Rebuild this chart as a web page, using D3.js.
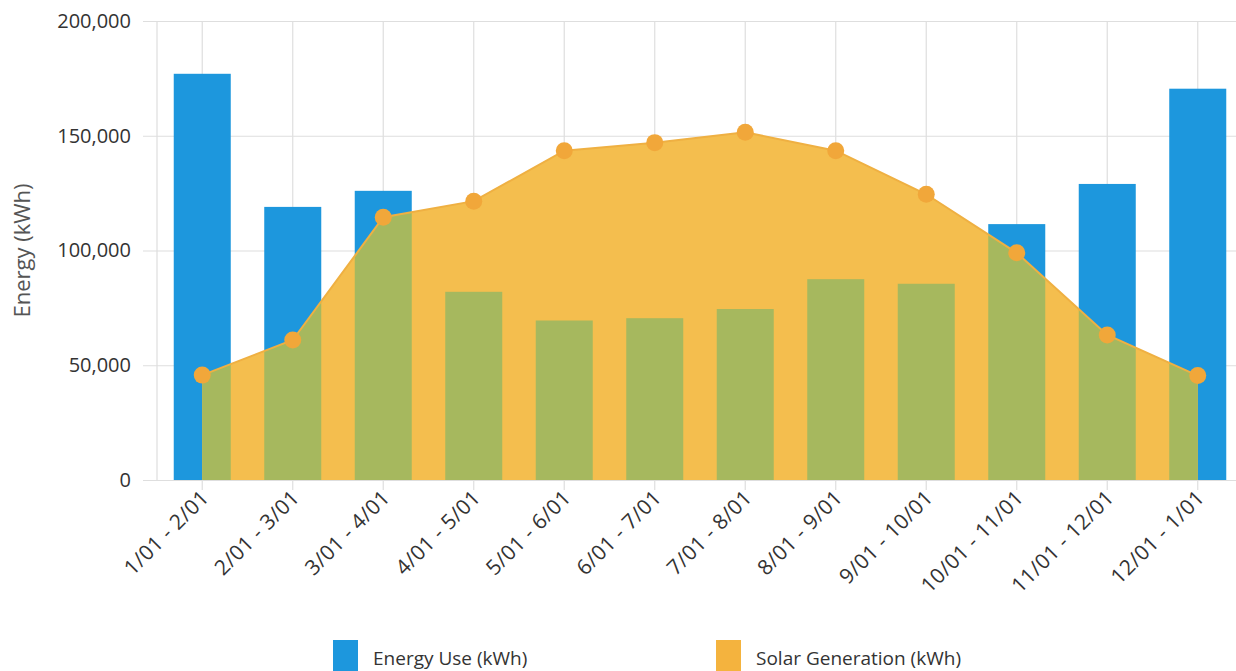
<!DOCTYPE html>
<html>
<head>
<meta charset="utf-8">
<script src="https://cdn.jsdelivr.net/npm/d3@7/dist/d3.min.js"></script>
<style>
  html, body { margin: 0; padding: 0; background: #fff; }
  svg { display: block; font-family: "Open Sans", sans-serif; }
</style>
</head>
<body>
<svg id="chart" width="1236" height="671"></svg>
<script>
// Monthly billing periods
const periods = ["1/01 - 2/01", "2/01 - 3/01", "3/01 - 4/01", "4/01 - 5/01", "5/01 - 6/01", "6/01 - 7/01",
                 "7/01 - 8/01", "8/01 - 9/01", "9/01 - 10/01", "10/01 - 11/01", "11/01 - 12/01", "12/01 - 1/01"];
// Energy use per period (kWh)
const energyUse = [177000, 119000, 126000, 82000, 69500, 70500, 74500, 87500, 85500, 111500, 129000, 170500];
// Solar generation per period (kWh)
const solarGen = [45700, 61000, 114500, 121500, 143500, 147000, 151500, 143500, 124500, 99000, 63200, 45500];
// Y axis ticks
const yTicks = [0, 50000, 100000, 150000, 200000];
const legendItems = ["Energy Use (kWh)", "Solar Generation (kWh)"];

const colors = { use: "#1d97dd", solar: "#f4be4e", overlap: "#a6b85e", dot: "#f1a73a", line: "#efb042" };

const svg = d3.select("#chart");
const plot = { left: 157, right: 1243, top: 21, bottom: 480 };

const x = d3.scaleBand().domain(periods).range([plot.left, plot.right])
  .paddingInner(0.37).paddingOuter(0.185);
const y = d3.scaleLinear().domain([0, 200000]).range([plot.bottom, plot.top]);
const cx = d => x(d) + x.bandwidth() / 2;

// Horizontal gridlines with labels
const yAxis = svg.append("g").attr("transform", `translate(${plot.left},0)`)
  .call(d3.axisLeft(y).tickValues(yTicks).tickFormat(d3.format(",")).tickSize(14).tickPadding(12));
yAxis.select(".domain").remove();
yAxis.selectAll(".tick line").attr("x2", plot.right - plot.left).attr("x1", -14)
  .attr("stroke", "#dedede").attr("stroke-width", 1.2);
yAxis.selectAll(".tick text").attr("font-size", 20).attr("fill", "#333")
  .attr("font-family", "'Open Sans', sans-serif");

// Vertical gridlines at each period, extending below the baseline as ticks
const xAxis = svg.append("g").attr("transform", `translate(0,${plot.bottom})`)
  .call(d3.axisBottom(x).tickSize(10).tickPadding(6));
xAxis.select(".domain").remove();
xAxis.selectAll(".tick line").attr("y1", plot.top - plot.bottom).attr("y2", 10)
  .attr("stroke", "#dedede").attr("stroke-width", 1.2);
xAxis.selectAll(".tick text")
  .attr("font-size", 21).attr("fill", "#333").attr("font-family", "'Open Sans', sans-serif")
  .attr("letter-spacing", 0.4)
  .attr("text-anchor", "end").attr("dy", 0)
  .attr("transform", "translate(8,19) rotate(-45)")
  .attr("y", 0).attr("x", 0);

// Left border line of the plot
svg.append("line").attr("x1", plot.left).attr("x2", plot.left)
  .attr("y1", plot.top).attr("y2", plot.bottom).attr("stroke", "#dedede").attr("stroke-width", 1.2);

// Energy use bars
svg.append("g").selectAll("rect").data(energyUse).join("rect")
  .attr("x", (d, i) => x(periods[i])).attr("width", x.bandwidth())
  .attr("y", d => y(d)).attr("height", d => y(0) - y(d))
  .attr("fill", colors.use);

// Solar generation area
const area = d3.area().x((d, i) => cx(periods[i])).y0(y(0)).y1(d => y(d));
const line = d3.line().x((d, i) => cx(periods[i])).y(d => y(d));

svg.append("defs").append("clipPath").attr("id", "solar-clip")
  .append("path").attr("d", area(solarGen));

svg.append("path").attr("d", area(solarGen)).attr("fill", colors.solar);

// Where the solar area covers the bars, bars show through as green
svg.append("g").attr("clip-path", "url(#solar-clip)")
  .selectAll("rect").data(energyUse).join("rect")
  .attr("x", (d, i) => x(periods[i])).attr("width", x.bandwidth())
  .attr("y", d => y(d)).attr("height", d => y(0) - y(d))
  .attr("fill", colors.overlap);

svg.append("path").attr("d", line(solarGen)).attr("fill", "none")
  .attr("stroke", colors.line).attr("stroke-width", 2);

svg.append("g").selectAll("circle").data(solarGen).join("circle")
  .attr("cx", (d, i) => cx(periods[i])).attr("cy", d => y(d)).attr("r", 8.5)
  .attr("fill", colors.dot);

// Axis title
svg.append("text").attr("transform", `translate(30,${(plot.top + plot.bottom) / 2}) rotate(-90)`)
  .attr("text-anchor", "middle").attr("font-size", 22).attr("fill", "#555")
  .text("Energy (kWh)");

// Legend
const legend = svg.append("g");
const legendX = [333, 716];
const legendColors = [colors.use, "#f4b33e"];
legendItems.forEach((t, i) => {
  legend.append("rect").attr("x", legendX[i]).attr("y", 640).attr("width", 25).attr("height", 40)
    .attr("fill", legendColors[i]);
  legend.append("text").attr("x", legendX[i] + 40).attr("y", 665)
    .attr("font-size", 19).attr("fill", "#333").text(t);
});
</script>
</body>
</html>
